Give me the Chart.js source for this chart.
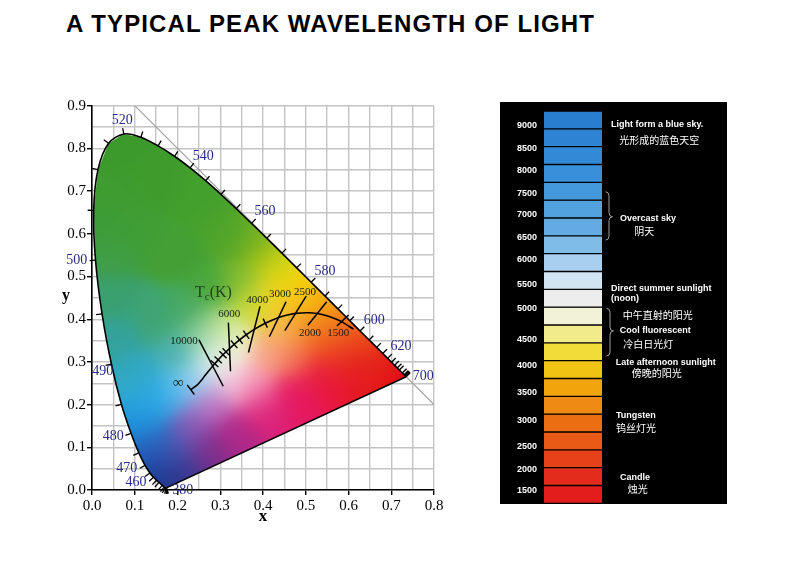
<!DOCTYPE html>
<html><head><meta charset="utf-8">
<script src="https://cdn.jsdelivr.net/npm/chart.js@4.4.1/dist/chart.umd.min.js"></script>
<style>
html,body{margin:0;padding:0;background:#fff;width:790px;height:579px;overflow:hidden;}
#title{position:absolute;left:66px;top:12px;font:bold 24px "Liberation Sans",Arial,sans-serif;letter-spacing:1.1px;line-height:24px;color:#000;white-space:nowrap;}
#cie{position:absolute;left:0;top:60px;}
#cct{position:absolute;left:500px;top:102px;background:#000;}
</style></head><body>
<div id="title">A TYPICAL PEAK WAVELENGTH OF LIGHT</div>
<canvas id="cie" width="470" height="500"></canvas>
<canvas id="cct" width="227" height="402"></canvas>
<script>
// ---------------- DATA: CIE 1931 chromaticity diagram ----------------
const wavelengths = [380,390,400,410,420,430,440,450,455,460,465,470,475,480,485,490,495,500,505,510,515,520,525,530,535,540,545,550,555,560,565,570,575,580,585,590,595,600,605,610,615,620,625,630,635,640,650,660,670,680,700];
const locusX = [0.1741,0.1738,0.1733,0.1726,0.1714,0.1689,0.1644,0.1566,0.1510,0.1440,0.1355,0.1241,0.1096,0.0913,0.0687,0.0454,0.0235,0.0082,0.0039,0.0139,0.0389,0.0743,0.1142,0.1547,0.1929,0.2296,0.2658,0.3016,0.3373,0.3731,0.4087,0.4441,0.4788,0.5125,0.5448,0.5752,0.6029,0.6270,0.6482,0.6658,0.6801,0.6915,0.7006,0.7079,0.7140,0.7190,0.7260,0.7300,0.7320,0.7334,0.7347];
const locusY = [0.0050,0.0049,0.0048,0.0048,0.0051,0.0069,0.0109,0.0177,0.0227,0.0297,0.0399,0.0578,0.0868,0.1327,0.2007,0.2950,0.4127,0.5384,0.6548,0.7502,0.8120,0.8338,0.8262,0.8059,0.7816,0.7543,0.7243,0.6923,0.6589,0.6245,0.5896,0.5547,0.5202,0.4866,0.4544,0.4242,0.3965,0.3725,0.3514,0.3340,0.3197,0.3083,0.2993,0.2920,0.2859,0.2809,0.2740,0.2700,0.2680,0.2666,0.2653];

const nmLabels = ['520','540','560','580','600','620','700','490','500','480','470','460','380'];
const nmLabelX = [0.0709,0.2604,0.4047,0.5450,0.6604,0.7228,0.7750,0.0250,-0.0358,0.0498,0.0812,0.1029,0.2122];
const nmLabelY = [0.8649,0.7822,0.6518,0.5112,0.3981,0.3356,0.2653,0.2770,0.5370,0.1265,0.0508,0.0171,-0.0016];

const planckT = ['1300','1500','1600','1800','2000','2200','2500','2800','3000','3500','4000','4500','5000','5500','6000','6500','7000','8000','9000','10000','12000','15000','20000','30000','∞'];
const planckX = [0.6118,0.5857,0.5732,0.5493,0.5267,0.5056,0.4770,0.4520,0.4369,0.4053,0.3805,0.3608,0.3451,0.3325,0.3221,0.3135,0.3064,0.2952,0.2869,0.2807,0.2719,0.2637,0.2560,0.2470,0.2310];
const planckY = [0.3766,0.3931,0.3993,0.4082,0.4133,0.4152,0.4137,0.4086,0.4041,0.3907,0.3768,0.3636,0.3516,0.3411,0.3318,0.3237,0.3166,0.3048,0.2956,0.2883,0.2776,0.2673,0.2570,0.2470,0.2350];
const minorTickT = ['9000','8000','7000','6500','5500','5000','4500','3500'];

const isoT  = ['10000','6000','4000','3000','2500','2000','1500'];
const isoX1 = [0.250,0.319,0.393,0.454,0.501,0.549,0.600];
const isoY1 = [0.352,0.392,0.430,0.441,0.454,0.441,0.410];
const isoX2 = [0.307,0.324,0.366,0.415,0.451,0.505,0.573];
const isoY2 = [0.243,0.278,0.322,0.359,0.373,0.386,0.384];
const isoLabelX = [0.2152,0.3212,0.3867,0.4398,0.4982,0.5100,0.5761];
const isoLabelY = [0.3496,0.4122,0.4450,0.4590,0.4644,0.3684,0.3684];

const xTickLabels = ['0.0','0.1','0.2','0.3','0.4','0.5','0.6','0.7','0.8'];
const yTickLabels = ['0.0','0.1','0.2','0.3','0.4','0.5','0.6','0.7','0.8','0.9'];

// ---------------- DATA: colour temperature scale ----------------
const cctLabels = ['9000','8500','8000','7500','7000','6500','6000','5500','5000','4500','4000','3500','3000','2500','2000','1500'];
const cctLabelPos = [0.83,2.09,3.35,4.60,5.83,7.10,8.34,9.72,11.07,12.80,14.30,15.81,17.33,18.83,20.08,21.31];
const cellHeights = [1,1,1,1,1,1,1,1,1,1,1,1,1,1,1,1,1,1,1,1,1,1];

// ---------------- STYLES ----------------
const cellColors = ['#2a7ed0','#2e84d3','#328ad6','#3790d9','#4499dc','#52a2df','#63ace3','#7fbce8','#a8d0ee','#d2e3f1','#ededee','#f1f2d6','#f2eb8a','#f2dc3a','#f1c414','#f1a40c','#ef8a12','#ec6e12','#e95a14','#e6421a','#e42c1c','#e31c1c'];
const colorCtrl = [
 [0.08,0.80,'#3c9a2c'],[0.05,0.68,'#3e9c30'],[0.15,0.72,'#3f9c2c'],[0.25,0.68,'#44a02c'],
 [0.20,0.55,'#44a034'],[0.32,0.60,'#4ea42a'],[0.38,0.58,'#72b022'],[0.42,0.54,'#b0c818'],
 [0.45,0.51,'#e8dc10'],[0.50,0.47,'#f8d000'],[0.54,0.44,'#f5a810'],[0.58,0.40,'#f28018'],
 [0.63,0.35,'#ec5018'],[0.68,0.30,'#e52818'],[0.72,0.27,'#e00a16'],[0.62,0.29,'#e41822'],
 [0.54,0.27,'#e8183c'],[0.47,0.23,'#e61860'],[0.40,0.19,'#dc2078'],[0.33,0.13,'#b02888'],
 [0.27,0.09,'#7a2e8c'],[0.21,0.04,'#40368e'],[0.175,0.01,'#1e3488'],[0.155,0.05,'#1c44a0'],
 [0.14,0.10,'#2064c0'],[0.13,0.16,'#2094dc'],[0.14,0.21,'#2aa8e4'],[0.10,0.27,'#30a8c4'],
 [0.06,0.35,'#34a29c'],[0.04,0.45,'#3aa070'],[0.04,0.55,'#3f9e46'],[0.03,0.62,'#3e9c38'],
 [0.10,0.60,'#409e36'],[0.15,0.40,'#3ea474'],
 [0.20,0.32,'#48b0b0'],[0.22,0.42,'#44a860'],[0.28,0.47,'#4aa63c'],[0.35,0.48,'#7eba30'],
 [0.37,0.43,'#c8dc40'],[0.41,0.44,'#eedc20'],[0.45,0.45,'#f6c820'],[0.49,0.40,'#f4a028'],
 [0.44,0.37,'#f8b860'],[0.53,0.36,'#f06c20'],[0.57,0.33,'#ec4220'],[0.47,0.31,'#f27050'],
 [0.41,0.31,'#f8a890'],[0.31,0.31,'#f8f8f4'],[0.33,0.35,'#f0f4c0'],[0.28,0.33,'#c8eadc'],
 [0.25,0.26,'#b0def6'],[0.20,0.23,'#50b8ec'],[0.33,0.26,'#f6c8dc'],[0.38,0.24,'#f490b8'],
 [0.28,0.20,'#c070c0'],[0.23,0.15,'#8a5cb8'],[0.19,0.10,'#4a58b4'],[0.30,0.38,'#b8de80'],
 [0.25,0.37,'#78c490']
];
const SERIF = '"Liberation Serif","DejaVu Serif",serif';
const SANS = '"Liberation Sans",Arial,sans-serif';
const CJK = '"Noto Sans CJK SC",sans-serif';
const NAVY = '#2a2a86';

function hexRgb(h){return [parseInt(h.slice(1,3),16),parseInt(h.slice(3,5),16),parseInt(h.slice(5,7),16)];}
const ctrlRGB = colorCtrl.map(c=>hexRgb(c[2]));

const cieFill = {
  id:'cieFill',
  beforeDatasetsDraw(chart){
    const ctx = chart.ctx, sx = chart.scales.x, sy = chart.scales.y;
    const pts = locusX.map((v,i)=>[sx.getPixelForValue(v), sy.getPixelForValue(locusY[i])]);
    let x0=1e9,y0=1e9,x1=-1e9,y1=-1e9;
    pts.forEach(p=>{x0=Math.min(x0,p[0]);y0=Math.min(y0,p[1]);x1=Math.max(x1,p[0]);y1=Math.max(y1,p[1]);});
    x0=Math.floor(x0)-2;y0=Math.floor(y0)-2;x1=Math.ceil(x1)+2;y1=Math.ceil(y1)+2;
    if(!this._img){
      const w=x1-x0,h=y1-y0;
      const off=document.createElement('canvas');off.width=w;off.height=h;
      const octx=off.getContext('2d');const im=octx.createImageData(w,h);
      const s2=2*0.035*0.035;
      for(let j=0;j<h;j++){
        const yv=sy.getValueForPixel(y0+j+0.5);
        for(let i=0;i<w;i++){
          const xv=sx.getValueForPixel(x0+i+0.5);
          let sw=0,r=0,g=0,b=0;
          for(let k=0;k<colorCtrl.length;k++){
            const dx=xv-colorCtrl[k][0],dy=yv-colorCtrl[k][1];
            const wt=Math.exp(-(dx*dx+dy*dy)/s2)+1e-12;
            sw+=wt;r+=wt*ctrlRGB[k][0];g+=wt*ctrlRGB[k][1];b+=wt*ctrlRGB[k][2];
          }
          const o=(j*w+i)*4;
          im.data[o]=r/sw;im.data[o+1]=g/sw;im.data[o+2]=b/sw;im.data[o+3]=255;
        }
      }
      octx.putImageData(im,0,0);
      this._img=off;
    }
    ctx.save();
    ctx.beginPath();
    pts.forEach((p,i)=>i?ctx.lineTo(p[0],p[1]):ctx.moveTo(p[0],p[1]));
    ctx.closePath();ctx.clip();
    ctx.drawImage(this._img,x0,y0);
    ctx.restore();
  }
};

const cieDecor = {
  id:'cieDecor',
  afterDatasetsDraw(chart){
    const ctx=chart.ctx, sx=chart.scales.x, sy=chart.scales.y;
    const P=(x,y)=>[sx.getPixelForValue(x),sy.getPixelForValue(y)];
    const c=P(0.33,0.33);
    ctx.save();
    ctx.strokeStyle='#000';ctx.lineWidth=1.3;
    const pts=locusX.map((v,i)=>P(v,locusY[i]));
    pts.forEach((p,i)=>{
      const a=pts[Math.max(0,i-1)], b=pts[Math.min(pts.length-1,i+1)];
      let tx=b[0]-a[0], ty=b[1]-a[1]; const L=Math.hypot(tx,ty)||1;
      let nx=-ty/L, ny=tx/L;
      if(nx*(p[0]-c[0])+ny*(p[1]-c[1])<0){nx=-nx;ny=-ny;}
      ctx.beginPath();ctx.moveTo(p[0],p[1]);ctx.lineTo(p[0]+nx*6,p[1]+ny*6);ctx.stroke();
    });
    ctx.lineWidth=1.4;
    const pp=planckX.map((v,i)=>P(v,planckY[i]));
    const tickAt=(i,len)=>{
      const a=pp[Math.max(0,i-1)], b=pp[Math.min(pp.length-1,i+1)];
      const tx=b[0]-a[0], ty=b[1]-a[1], L=Math.hypot(tx,ty)||1;
      const nx=-ty/L, ny=tx/L, p=pp[i];
      ctx.beginPath();ctx.moveTo(p[0]-nx*len,p[1]-ny*len);ctx.lineTo(p[0]+nx*len,p[1]+ny*len);ctx.stroke();
    };
    minorTickT.forEach(t=>tickAt(planckT.indexOf(t),5));
    tickAt(planckT.length-1,6);
    ctx.fillStyle=NAVY;ctx.font='14px '+SERIF;ctx.textAlign='center';ctx.textBaseline='middle';
    nmLabels.forEach((t,i)=>{const p=P(nmLabelX[i],nmLabelY[i]);ctx.fillText(t,p[0],p[1]);});
    ctx.fillStyle='#141e14';ctx.font='11px '+SERIF;
    isoT.forEach((t,i)=>{const p=P(isoLabelX[i],isoLabelY[i]);ctx.fillText(t,p[0],p[1]);});
    ctx.font='15px '+SERIF;
    const pi=P(0.2019,0.2499);ctx.fillText('∞',pi[0],pi[1]);
    ctx.fillStyle='#1f4420';ctx.textAlign='left';ctx.textBaseline='alphabetic';
    const pt=P(0.2409,0.4644);let xx=pt[0];const by=pt[1]+5;
    ctx.font='16px '+SERIF;ctx.fillText('T',xx,by);xx+=ctx.measureText('T').width;
    ctx.font='11px '+SERIF;ctx.fillText('c',xx,by+3);xx+=ctx.measureText('c').width;
    ctx.font='16px '+SERIF;ctx.fillText('(K)',xx,by);
    ctx.fillStyle='#000';ctx.font='bold 16px '+SERIF;ctx.textAlign='center';ctx.textBaseline='middle';
    ctx.fillText('y',chart.chartArea.left-26,sy.getPixelForValue(0.455));
    ctx.restore();
  }
};

const lineDs=(data,color,w,tension)=>({data,showLine:true,borderColor:color,borderWidth:w,pointRadius:0,tension,fill:false});
const datasets=[];
datasets.push(lineDs(planckX.map((v,i)=>({x:v,y:planckY[i]})),'#000',1.6,0.3));
isoT.forEach((t,i)=>datasets.push(lineDs([{x:isoX1[i],y:isoY1[i]},{x:isoX2[i],y:isoY2[i]}],'#000',1.5,0)));
datasets.push(lineDs(locusX.map((v,i)=>({x:v,y:locusY[i]})),'#000',1.6,0.3));
datasets.push(lineDs([{x:locusX[locusX.length-1],y:locusY[locusY.length-1]},{x:locusX[0],y:locusY[0]}],'#000',1.6,0));
datasets.push(lineDs([{x:0.1,y:0.9},{x:0.8,y:0.2}],'#a0a0a0',1.2,0));

const tickIs10=v=>Math.round(v*100)%10===0;
new Chart(document.getElementById('cie'),{
  type:'scatter',
  data:{datasets},
  options:{
    responsive:false,animation:false,events:[],
    layout:{padding:{top:45.7,left:0,right:36,bottom:30}},
    plugins:{legend:{display:false},tooltip:{enabled:false}},
    scales:{
      x:{type:'linear',min:0,max:0.8,
        afterFit:s=>{s.height=40;},
        afterBuildTicks:s=>{s.ticks=[];for(let k=0;k<=16;k++)s.ticks.push({value:k*0.05});},
        ticks:{autoSkip:false,maxRotation:0,padding:2,color:'#000',font:{family:SERIF,size:15},
          callback:(v)=>tickIs10(v)?xTickLabels[Math.round(v*10)]:''},
        grid:{color:'#c4c4c4',lineWidth:1.4,tickLength:5,tickWidth:1.4,
          tickColor:c=>(c.tick&&tickIs10(c.tick.value))?'#000':'rgba(0,0,0,0)'},
        border:{color:'#000',width:1.6},
        title:{display:true,text:'x',color:'#000',font:{family:SERIF,size:17,weight:'bold'},padding:{top:0,bottom:3}}
      },
      y:{type:'linear',min:0,max:0.9,
        afterFit:s=>{s.width=92;},
        afterBuildTicks:s=>{s.ticks=[];for(let k=0;k<=18;k++)s.ticks.push({value:k*0.05});},
        ticks:{autoSkip:false,padding:1,color:'#000',font:{family:SERIF,size:15},
          callback:(v)=>tickIs10(v)?yTickLabels[Math.round(v*10)]:''},
        grid:{color:'#c4c4c4',lineWidth:1.4,tickLength:5,tickWidth:1.4,
          tickColor:c=>(c.tick&&tickIs10(c.tick.value))?'#000':'rgba(0,0,0,0)'},
        border:{color:'#000',width:1.6}
      }
    }
  },
  plugins:[cieFill,cieDecor]
});

// ---------------- colour temperature chart ----------------
const notes = [
 ['Light form a blue sky.',0.785,9,'en'],['光形成的蓝色天空',1.63,17.3,'zh'],
 ['Overcast sky',6.02,18,'en'],['阴天',6.73,32.3,'zh'],
 ['Direct summer sunlight',9.98,9,'en'],['(noon)',10.54,9,'en'],
 ['中午直射的阳光',11.44,20.7,'zh'],['Cool fluorescent',12.32,17.7,'en'],['冷白日光灯',13.08,21.3,'zh'],
 ['Late afternoon sunlight',14.09,13.7,'en'],['傍晚的阳光',14.71,29.7,'zh'],
 ['Tungsten',17.09,14,'en'],['钨丝灯光',17.80,14,'zh'],
 ['Candle',20.57,18,'en'],['烛光',21.2,25.7,'zh']
];
const braces = [[4.53,5.93,7.24,3.5],[11.07,12.34,13.74,4.5]];
const cctDecor = {
  id:'cctDecor',
  afterDraw(chart){
    const ctx=chart.ctx, sy=chart.scales.y, R=chart.chartArea.right;
    ctx.save();
    ctx.fillStyle='#fff';ctx.textAlign='left';ctx.textBaseline='middle';
    notes.forEach(n=>{
      ctx.font=n[3]==='en'?'bold 9px '+SANS:'10px '+CJK;
      ctx.fillText(n[0],R+n[2],sy.getPixelForValue(n[1]));
    });
    ctx.strokeStyle='#a0a0a0';ctx.lineWidth=1;
    braces.forEach(b=>{
      const x=R+b[3], t=sy.getPixelForValue(b[0]), m=sy.getPixelForValue(b[1]), e=sy.getPixelForValue(b[2]);
      const xm=x+3.5, xt=x+7;
      ctx.beginPath();ctx.moveTo(x,t);ctx.quadraticCurveTo(xm,t,xm,t+4);ctx.lineTo(xm,m-4);
      ctx.quadraticCurveTo(xm,m,xt,m);ctx.quadraticCurveTo(xm,m,xm,m+4);ctx.lineTo(xm,e-4);
      ctx.quadraticCurveTo(xm,e,x,e);ctx.stroke();
    });
    ctx.restore();
  }
};
new Chart(document.getElementById('cct'),{
  type:'bar',
  data:{labels:[''],datasets:cellColors.map((c,i)=>({data:[cellHeights[i]],backgroundColor:c,borderColor:'#000',
    borderWidth:{top:1,bottom:1,left:0,right:0},borderSkipped:false,barPercentage:1,categoryPercentage:1,stack:'s'}))},
  options:{
    responsive:false,animation:false,events:[],
    layout:{padding:{top:9,left:0,right:125,bottom:0.7}},
    plugins:{legend:{display:false},tooltip:{enabled:false}},
    scales:{
      x:{display:false,stacked:true},
      y:{stacked:true,reverse:true,min:0,max:22,
        afterFit:s=>{s.width=44;s.paddingTop=0;s.paddingBottom=0;},
        afterBuildTicks:s=>{s.ticks=cctLabelPos.map(v=>({value:v}));},
        grid:{display:false,drawTicks:false},border:{display:false},
        ticks:{autoSkip:false,padding:7,color:'#fff',font:{family:SANS,size:9,weight:'bold'},
          callback:(v,i)=>cctLabels[i]}
      }
    }
  },
  plugins:[cctDecor]
});
</script>
</body></html>
